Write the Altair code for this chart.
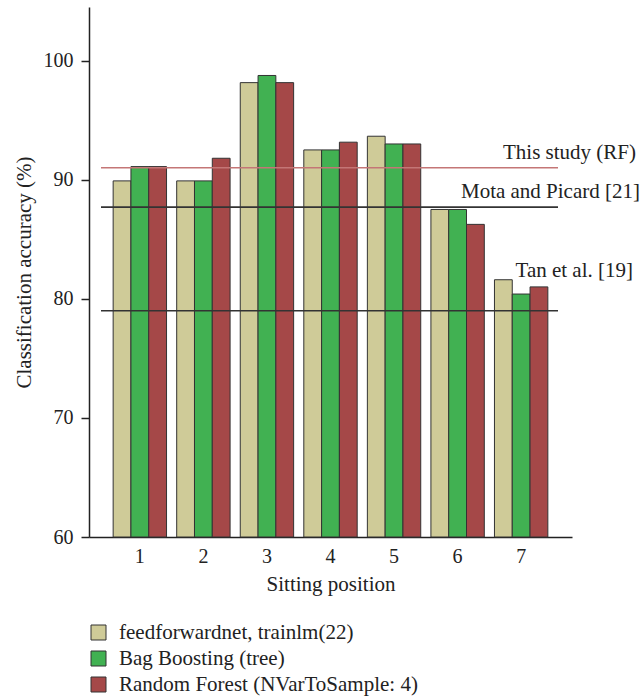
import altair as alt
import pandas as pd

positions = ["1", "2", "3", "4", "5", "6", "7"]
series = ["feedforwardnet, trainlm(22)", "Bag Boosting (tree)", "Random Forest (NVarToSample: 4)"]
ffn = [89.9, 89.9, 98.15, 92.5, 93.65, 87.5, 81.6]
bag = [91.1, 89.9, 98.75, 92.5, 93.0, 87.5, 80.4]
rf = [91.1, 91.8, 98.15, 93.15, 93.0, 86.25, 81.0]
series_colors = ["#cfcb98", "#41b152", "#a54848"]

ref_names = ["This study (RF)", "Mota and Picard [21]", "Tan et al. [19]"]
ref_values = [91.0, 87.7, 79.0]
ref_colors = ["#c47676", "#333333", "#333333"]
# label placement (styling): vertical offset in px and right edge in px
ref_label_dy = [-9, -9, -34]
ref_label_x = [547, 551, 544]

rows = []
for s, vals in zip(series, [ffn, bag, rf]):
    for p, v in zip(positions, vals):
        rows.append({"position": p, "series": s, "value": v})
bars_df = pd.DataFrame(rows)
ref_df = pd.DataFrame({"name": ref_names, "value": ref_values})

FONT = "Liberation Serif"
W, H = 483, 530

yscale = alt.Scale(domain=[60, 104.5], clamp=True, nice=False, zero=False)

bars = alt.Chart(bars_df).mark_bar(stroke="#333333", strokeWidth=1).encode(
    x=alt.X("position:N", sort=positions,
            scale=alt.Scale(paddingInner=0.16, paddingOuter=0.38),
            axis=alt.Axis(title="Sitting position", labelAngle=0, ticks=False,
                          labelPadding=9, titlePadding=7)),
    xOffset=alt.XOffset("series:N", sort=series, scale=alt.Scale(paddingInner=0, paddingOuter=0)),
    y=alt.Y("value:Q", scale=yscale,
            axis=alt.Axis(title="Classification accuracy (%)", values=[60, 70, 80, 90, 100],
                          tickSize=8, labelPadding=8, titlePadding=9)),
    color=alt.Color("series:N", sort=series,
                    scale=alt.Scale(domain=series, range=series_colors),
                    legend=alt.Legend(title=None, orient="none", legendX=-1, legendY=615,
                                      symbolType="square", symbolSize=225,
                                      symbolStrokeColor="#333333", symbolStrokeWidth=1,
                                      labelFont=FONT, labelFontSize=21, labelColor="#222222",
                                      labelOffset=10, rowPadding=4, labelLimit=0)),
)

rules = alt.Chart(ref_df).mark_rule(strokeWidth=1.6).encode(
    y=alt.Y("value:Q", scale=yscale),
    x=alt.value(12),
    x2=alt.value(469),
    color=alt.Color("name:N", scale=alt.Scale(domain=ref_names, range=ref_colors), legend=None),
)

labels = []
for i in range(len(ref_names)):
    labels.append(
        alt.Chart(ref_df.iloc[[i]]).mark_text(
            align="right", baseline="alphabetic", font=FONT, fontSize=21,
            color="#222222", dy=ref_label_dy[i]
        ).encode(
            y=alt.Y("value:Q", scale=yscale),
            x=alt.value(ref_label_x[i]),
            text="name:N",
        )
    )

chart = alt.layer(bars, rules, *labels).resolve_scale(color="independent").properties(
    width=W, height=H,
    autosize=alt.AutoSizeParams(type="none"),
    padding={"left": 89, "top": 7, "right": 643 - 89 - W, "bottom": 699 - 7 - H},
).configure_view(stroke=None).configure_axis(
    grid=False, domainColor="#222222", domainWidth=1.5, tickColor="#222222", tickWidth=1.5,
    labelFont=FONT, labelFontSize=20, labelColor="#222222",
    titleFont=FONT, titleFontSize=21, titleFontWeight="normal", titleColor="#222222",
)

chart.save("out.html", embed_options={"renderer": "svg", "actions": False})
